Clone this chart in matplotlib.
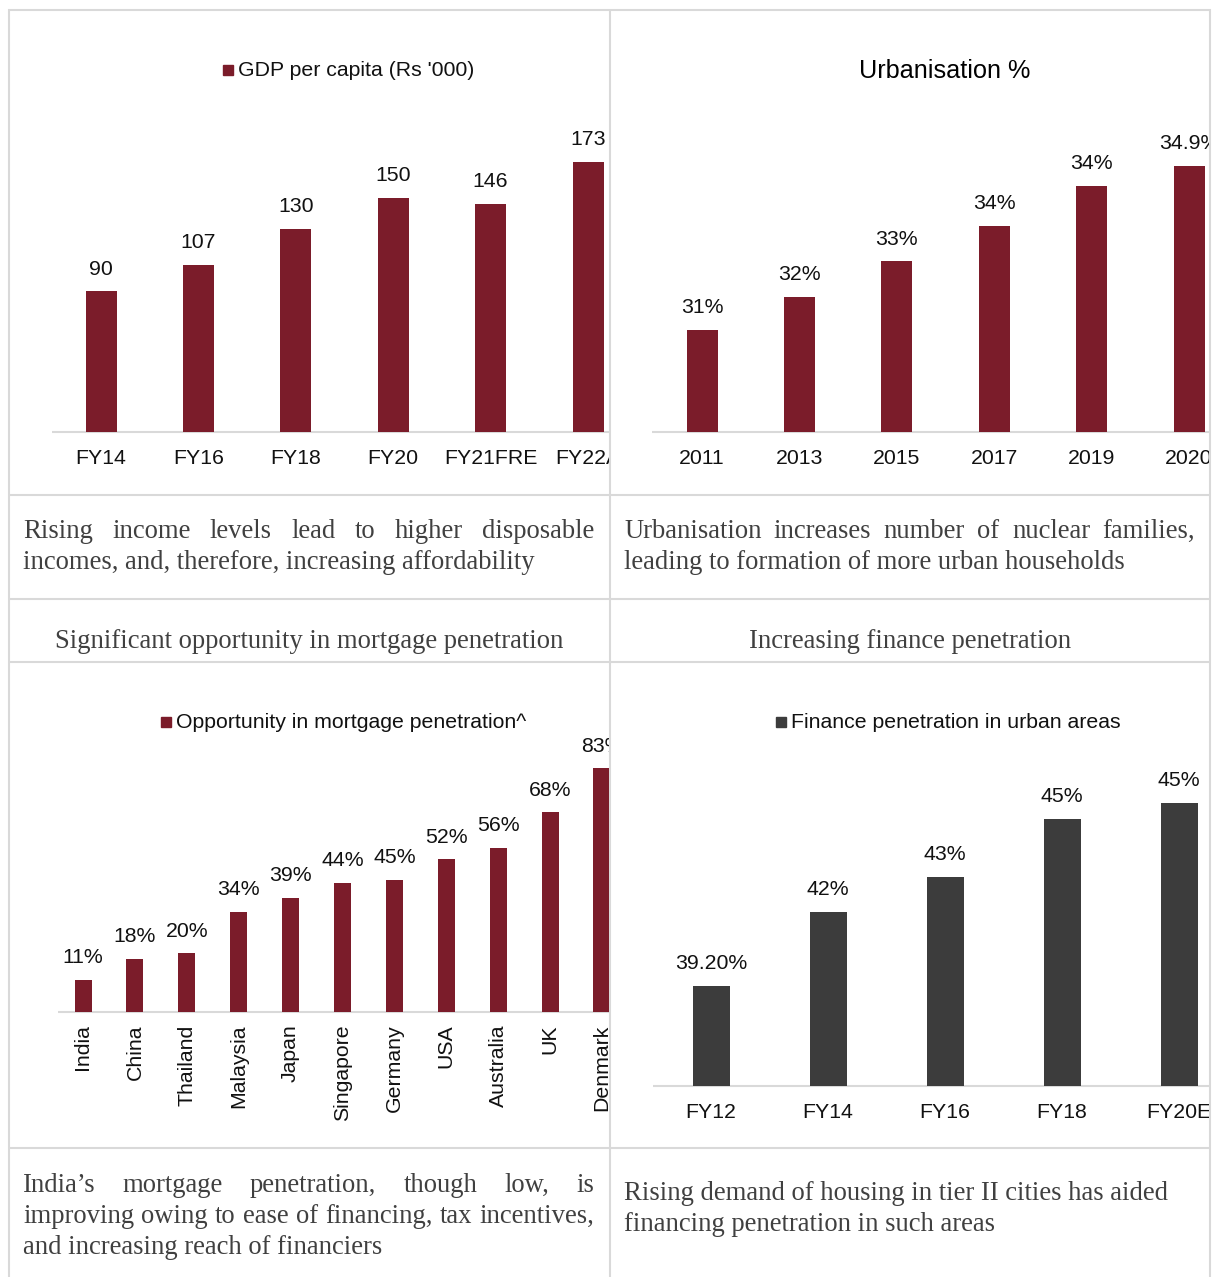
import numpy as np
import matplotlib
matplotlib.use('Agg')
import matplotlib.pyplot as plt
from matplotlib.patches import Rectangle

W, H = 1218, 1277
MAROON = '#7b1c2a'
DARK = '#3c3c3c'
GRID = '#d9d9d9'
INK = '#111111'
PROSE = '#404040'
SERIF = 'Liberation Serif'
SANS = 'Liberation Sans'

# ---------------- data ----------------
gdp_years = ['FY14', 'FY16', 'FY18', 'FY20', 'FY21FRE', 'FY22A']
gdp_values = [90, 107, 130, 150, 146, 173]
gdp_labels = ['90', '107', '130', '150', '146', '173']

urban_years = ['2011', '2013', '2015', '2017', '2019', '2020']
urban_values = [31.2, 31.95, 32.75, 33.55, 34.45, 34.9]
urban_labels = ['31%', '32%', '33%', '34%', '34%', '34.9%']

mort_countries = ['India', 'China', 'Thailand', 'Malaysia', 'Japan', 'Singapore',
                  'Germany', 'USA', 'Australia', 'UK', 'Denmark']
mort_values = [11, 18, 20, 34, 39, 44, 45, 52, 56, 68, 83]
mort_labels = ['11%', '18%', '20%', '34%', '39%', '44%', '45%', '52%', '56%', '68%', '83%']

fin_years = ['FY12', 'FY14', 'FY16', 'FY18', 'FY20E']
fin_values = [39.2, 41.7, 42.9, 44.85, 45.4]
fin_labels = ['39.20%', '42%', '43%', '45%', '45%']

# ---------------- figure + full-page overlay in pixel units ----------------
fig = plt.figure(figsize=(W / 100, H / 100), dpi=100)
over = fig.add_axes([0, 0, 1, 1], zorder=0)
over.set_xlim(0, W)
over.set_ylim(H, 0)
over.axis('off')
renderer = fig.canvas.get_renderer()

# table lines
lw = 1.5
for x in (9, 610, 1210):
    over.plot([x, x], [9, H], color=GRID, lw=lw, solid_capstyle='butt')
for y in (10, 495, 599, 662, 1148):
    over.plot([8, 1211], [y, y], color=GRID, lw=lw, solid_capstyle='butt')

FS = 15.3


def chart(cell, cats, values, labels, color, c0, step, base, v0, k, bar_px,
          base_x0, rotate=False):
    x0, y0, x1, y1 = cell
    ax = fig.add_axes([x0 / W, 1 - y1 / H, (x1 - x0) / W, (y1 - y0) / H], zorder=1)
    ax.set_facecolor('none')
    ax.axis('off')
    ax.set_xlim((x0 - c0) / step, (x1 - c0) / step)
    ax.set_ylim(v0 - (y1 - base) / k, v0 + (base - y0) / k)
    pos = np.arange(len(cats))
    vals = np.array(values, dtype=float)
    ax.bar(pos, vals - v0, bottom=v0, width=bar_px / step, color=color, zorder=2)
    ax.hlines(v0, (base_x0 - c0) / step, ax.get_xlim()[1], color=GRID, lw=1.5, zorder=1)
    for i, (v, lab) in enumerate(zip(vals, labels)):
        ax.annotate(lab, (i, v), xytext=(0, 16), textcoords='offset points',
                    ha='center', va='center', fontsize=FS, family=SANS, color=INK,
                    clip_on=True, annotation_clip=False)
    for i, c in enumerate(cats):
        if rotate:
            ax.annotate(c, (i, v0), xytext=(0, -9), textcoords='offset points',
                        ha='center', va='top', rotation=90, fontsize=FS, family=SANS,
                        color=INK, clip_on=True, annotation_clip=False)
        else:
            ax.annotate(c, (i, v0), xytext=(0, -19), textcoords='offset points',
                        ha='center', va='center', fontsize=FS, family=SANS,
                        color=INK, clip_on=True, annotation_clip=False)
    return ax


chart((10, 11, 609, 494), gdp_years, gdp_values, gdp_labels, MAROON,
      101, 97.4, 432, 0, 1.563, 31, 52)
chart((611, 11, 1209, 494), urban_years, urban_values, urban_labels, MAROON,
      702, 97.4, 432, 28.9, 44.3, 31, 652)
chart((10, 663, 609, 1147), mort_countries, mort_values, mort_labels, MAROON,
      83, 51.9, 1012, 0, 2.935, 17, 58, rotate=True)
chart((611, 663, 1209, 1147), fin_years, fin_values, fin_labels, DARK,
      711, 117, 1086, 35.8, 29.5, 37, 653)


# legends / title
def legend(x_sq, y, text, color):
    over.add_patch(Rectangle((x_sq, y - 5), 10, 10, color=color))
    over.text(x_sq + 15, y + 1, text, ha='left', va='center', fontsize=FS,
              family=SANS, color=INK)


legend(223, 70, "GDP per capita (Rs '000)", MAROON)
legend(161, 722, "Opportunity in mortgage penetration^", MAROON)
legend(776, 722, "Finance penetration in urban areas", DARK)
over.text(945, 71, 'Urbanisation %', ha='center', va='center', fontsize=18.2,
          family=SANS, color='black')


# prose cells
PFS = 19.2


def prose(lines, x0, x1, y, justify):
    for n, line in enumerate(lines):
        yy = y + 31 * n
        if not justify[n]:
            over.text(x0, yy, line, ha='left', va='baseline', fontsize=PFS,
                      family=SERIF, color=PROSE)
            continue
        words = line.split()
        texts = [over.text(0, yy, w, ha='left', va='baseline', fontsize=PFS,
                           family=SERIF, color=PROSE) for w in words]
        widths = [t.get_window_extent(renderer).width for t in texts]
        gap = (x1 - x0 - sum(widths)) / (len(words) - 1)
        x = x0
        for t, w in zip(texts, widths):
            t.set_x(x)
            x += w + gap


prose(['Rising income levels lead to higher disposable',
       'incomes, and, therefore, increasing affordability'],
      23, 594, 538, [True, False])
prose(['Urbanisation increases number of nuclear families,',
       'leading to formation of more urban households'],
      624, 1195, 538, [True, False])
prose(['India\u2019s mortgage penetration, though low, is',
       'improving owing to ease of financing, tax incentives,',
       'and increasing reach of financiers'],
      23, 594, 1192, [True, True, False])
prose(['Rising demand of housing in tier II cities has aided',
       'financing penetration in such areas'],
      624, 1195, 1200, [False, False])

over.text(309, 648, 'Significant opportunity in mortgage penetration', ha='center',
          va='baseline', fontsize=PFS, family=SERIF, color=PROSE)
over.text(910, 648, 'Increasing finance penetration', ha='center',
          va='baseline', fontsize=PFS, family=SERIF, color=PROSE)

fig.savefig('out.png', dpi=100)
